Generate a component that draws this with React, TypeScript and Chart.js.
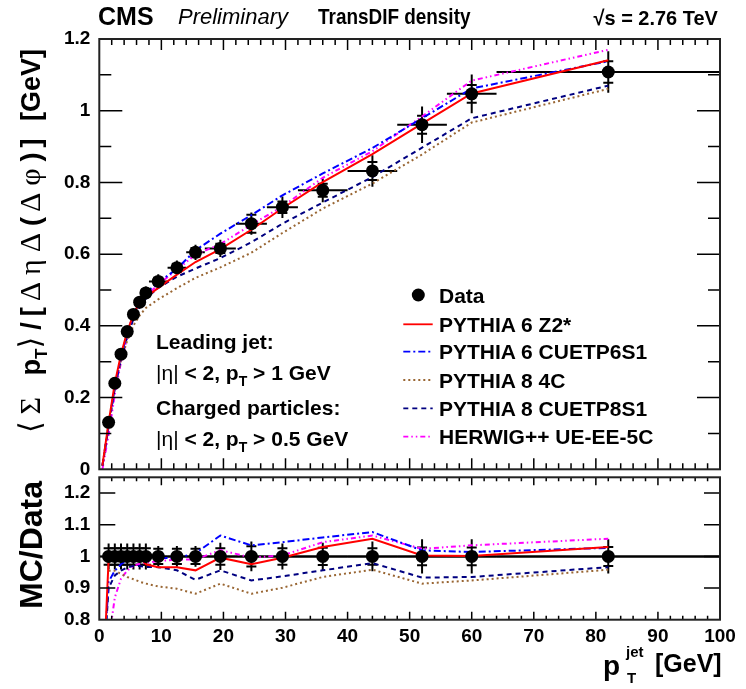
import React, { useEffect, useRef } from "react";
import { Chart, registerables } from "chart.js";

Chart.register(...registerables);

// ---------------- data ----------------
const binCenters = [1.5, 2.5, 3.5, 4.5, 5.5, 6.5, 7.5, 9.5, 12.5, 15.5, 19.5, 24.5, 29.5, 36, 44, 52, 60, 82];
const binLow = [1, 2, 3, 4, 5, 6, 7, 8, 11, 14, 17, 22, 27, 32, 40, 48, 56, 64];
const binHigh = [2, 3, 4, 5, 6, 7, 8, 11, 14, 17, 22, 27, 32, 40, 48, 56, 64, 100];
const dataValues = [0.131, 0.24, 0.321, 0.384, 0.432, 0.466, 0.492, 0.524, 0.562, 0.605, 0.616, 0.685, 0.731, 0.778, 0.832, 0.961, 1.047, 1.108];
const dataErrTotal = [0.006, 0.01, 0.012, 0.014, 0.016, 0.017, 0.018, 0.02, 0.02, 0.021, 0.024, 0.031, 0.03, 0.033, 0.044, 0.051, 0.054, 0.058];
const dataErrStat = [0.003, 0.005, 0.006, 0.007, 0.008, 0.008, 0.009, 0.01, 0.011, 0.012, 0.013, 0.025, 0.016, 0.018, 0.025, 0.025, 0.025, 0.03];
const ratioDataValues = [1, 1, 1, 1, 1, 1, 1, 1, 1, 1, 1, 1, 1, 1, 1, 1, 1, 1];
const ratioErrTotal = [0.041, 0.041, 0.041, 0.041, 0.041, 0.041, 0.041, 0.033, 0.033, 0.033, 0.043, 0.047, 0.041, 0.043, 0.047, 0.054, 0.054, 0.054];
const ratioErrStat = [0.026, 0.026, 0.026, 0.026, 0.026, 0.026, 0.026, 0.024, 0.024, 0.024, 0.026, 0.032, 0.026, 0.027, 0.026, 0.028, 0.028, 0.03];

const mcX = [0.5, 1.5, 2.5, 3.5, 4.5, 5.5, 6.5, 7.5, 9.5, 12.5, 15.5, 19.5, 24.5, 29.5, 36, 44, 52, 60, 82];
const z2Main = [0.01, 0.13, 0.24, 0.321, 0.384, 0.432, 0.466, 0.48, 0.506, 0.543, 0.578, 0.614, 0.668, 0.728, 0.801, 0.879, 0.964, 1.048, 1.141];
const z2Ratio = [0.55, 0.99, 1.0, 1.0, 1.0, 1.0, 1.0, 0.975, 0.966, 0.966, 0.956, 0.996, 0.975, 0.996, 1.03, 1.056, 1.003, 1.001, 1.03];
const cuetp6Main = [0.01, 0.121, 0.229, 0.313, 0.38, 0.432, 0.466, 0.492, 0.521, 0.559, 0.611, 0.657, 0.709, 0.764, 0.825, 0.896, 0.979, 1.062, 1.138];
const cuetp6Ratio = [0.6, 0.92, 0.955, 0.975, 0.99, 1.0, 1.0, 1.0, 0.995, 0.995, 1.01, 1.066, 1.035, 1.045, 1.06, 1.077, 1.019, 1.014, 1.027];
const p84cMain = [0.01, 0.125, 0.229, 0.303, 0.359, 0.401, 0.429, 0.45, 0.474, 0.505, 0.534, 0.563, 0.604, 0.659, 0.727, 0.797, 0.878, 0.967, 1.061];
const p84cRatio = [null, 0.955, 0.955, 0.945, 0.935, 0.928, 0.92, 0.914, 0.905, 0.898, 0.882, 0.914, 0.882, 0.901, 0.935, 0.958, 0.914, 0.924, 0.958];
const cuetp8Main = [0.01, 0.118, 0.226, 0.307, 0.371, 0.419, 0.452, 0.476, 0.506, 0.537, 0.56, 0.589, 0.633, 0.685, 0.744, 0.815, 0.897, 0.979, 1.07];
const cuetp8Ratio = [0.6, 0.9, 0.94, 0.955, 0.965, 0.97, 0.97, 0.967, 0.966, 0.956, 0.926, 0.956, 0.924, 0.937, 0.956, 0.979, 0.933, 0.935, 0.966];
const herwigMain = [0.0, 0.096, 0.209, 0.299, 0.367, 0.419, 0.455, 0.482, 0.516, 0.556, 0.599, 0.628, 0.682, 0.733, 0.813, 0.887, 0.984, 1.084, 1.17];
const herwigRatio = [0.3, 0.73, 0.87, 0.93, 0.955, 0.97, 0.977, 0.98, 0.985, 0.99, 0.99, 1.02, 0.996, 1.003, 1.045, 1.066, 1.024, 1.035, 1.056];

const mcLabels = ["PYTHIA 6 Z2*", "PYTHIA 6 CUETP6S1", "PYTHIA 8 4C", "PYTHIA 8 CUETP8S1", "HERWIG++ UE-EE-5C"];
const mcColors = ["#ff0000", "#0000ff", "#996633", "#000080", "#ff00ff"];
const mcDashes = [[], [7, 3, 2, 3], [2, 3], [5, 4], [5, 3, 1.5, 3, 1.5, 3]];
const mcMain = [z2Main, cuetp6Main, p84cMain, cuetp8Main, herwigMain];
const mcRatio = [z2Ratio, cuetp6Ratio, p84cRatio, cuetp8Ratio, herwigRatio];

const xTickLabels = [0, 10, 20, 30, 40, 50, 60, 70, 80, 90, 100];
const mainYTickLabels = [0, 0.2, 0.4, 0.6, 0.8, 1, 1.2];
const ratioYTickLabels = [0.8, 0.9, 1, 1.1, 1.2];

const FONT = '"Liberation Sans", Arial, Helvetica, sans-serif';
const SYM = '"Liberation Serif", "DejaVu Serif", serif';

type FrameOpts = {
  values: number[];
  errTot: number[];
  errStat: number[];
  refLine?: number;
  xMajorLen: number;
  xMinorLen: number;
  yTicks: { v: number; major: boolean }[];
  yMajorLen: number;
  yMinorLen: number;
};

function framePlugin(o: FrameOpts) {
  return {
    id: "rootFrame",
    beforeDatasetsDraw(chart: any) {
      const { ctx, chartArea: a } = chart;
      const xs = chart.scales.x;
      const ys = chart.scales.y;
      ctx.save();
      ctx.beginPath();
      ctx.rect(a.left, a.top, a.right - a.left, a.bottom - a.top);
      ctx.clip();
      ctx.strokeStyle = "#000";
      if (o.refLine !== undefined) {
        ctx.lineWidth = 2;
        const yy = ys.getPixelForValue(o.refLine);
        ctx.beginPath();
        ctx.moveTo(xs.getPixelForValue(0), yy);
        ctx.lineTo(xs.getPixelForValue(100), yy);
        ctx.stroke();
      }
      ctx.lineWidth = 2;
      for (let i = 0; i < binCenters.length; i++) {
        const px = xs.getPixelForValue(binCenters[i]);
        const py = ys.getPixelForValue(o.values[i]);
        ctx.beginPath();
        ctx.moveTo(xs.getPixelForValue(binLow[i]), py);
        ctx.lineTo(xs.getPixelForValue(binHigh[i]), py);
        ctx.moveTo(px, ys.getPixelForValue(o.values[i] - o.errTot[i]));
        ctx.lineTo(px, ys.getPixelForValue(o.values[i] + o.errTot[i]));
        const s1 = ys.getPixelForValue(o.values[i] + o.errStat[i]);
        const s2 = ys.getPixelForValue(o.values[i] - o.errStat[i]);
        ctx.moveTo(px - 5, s1);
        ctx.lineTo(px + 5, s1);
        ctx.moveTo(px - 5, s2);
        ctx.lineTo(px + 5, s2);
        ctx.stroke();
      }
      ctx.restore();
    },
    afterDraw(chart: any) {
      const { ctx, chartArea: a } = chart;
      const xs = chart.scales.x;
      const ys = chart.scales.y;
      ctx.save();
      ctx.strokeStyle = "#000";
      ctx.lineWidth = 1.5;
      ctx.beginPath();
      for (let v = 2; v < 100; v += 2) {
        const px = xs.getPixelForValue(v);
        const len = v % 10 === 0 ? o.xMajorLen : o.xMinorLen;
        ctx.moveTo(px, a.bottom);
        ctx.lineTo(px, a.bottom - len);
        ctx.moveTo(px, a.top);
        ctx.lineTo(px, a.top + len);
      }
      for (const t of o.yTicks) {
        const py = ys.getPixelForValue(t.v);
        const len = t.major ? o.yMajorLen : o.yMinorLen;
        ctx.moveTo(a.left, py);
        ctx.lineTo(a.left + len, py);
        ctx.moveTo(a.right, py);
        ctx.lineTo(a.right - len, py);
      }
      ctx.stroke();
      ctx.lineWidth = 2;
      ctx.strokeStyle = "#222";
      ctx.strokeRect(a.left, a.top, a.right - a.left, a.bottom - a.top);
      ctx.restore();
    },
  };
}

const tickFont = { family: FONT, size: 19, weight: "bold" as const };
const fmt = (v: any) => String(Math.round(Number(v) * 100) / 100);

function mcDatasets(values: (number | null)[][]) {
  return values.map((arr, k) => ({
    label: mcLabels[k],
    data: mcX.map((x, i) => ({ x, y: arr[i] })),
    borderColor: mcColors[k],
    borderDash: mcDashes[k],
    borderWidth: 2,
    pointRadius: 0,
    fill: false,
    tension: 0,
    spanGaps: false,
  }));
}

function dataDataset(vals: number[]) {
  return {
    label: "Data",
    data: binCenters.map((x, i) => ({ x, y: vals[i] })),
    showLine: false,
    pointRadius: 6.5,
    pointBackgroundColor: "#000",
    pointBorderColor: "#000",
    pointBorderWidth: 0,
    borderColor: "#000",
  };
}

const Sub = ({ children, size = 14, dy = 6 }: any) => (
  <span style={{ fontSize: size, position: "relative", top: dy }}>{children}</span>
);

const G = ({ children, size = 30, ls = 7 }: any) => (
  <span style={{ fontFamily: SYM, fontWeight: "normal", fontSize: size, letterSpacing: ls }}>{children}</span>
);

export default function App() {
  const mainRef = useRef<HTMLCanvasElement>(null);
  const ratioRef = useRef<HTMLCanvasElement>(null);

  useEffect(() => {
    const mainYTicks = [] as { v: number; major: boolean }[];
    for (let k = 1; k < 12; k++) mainYTicks.push({ v: k / 10, major: k % 2 === 0 });
    const ratioYTicks = [0.9, 1.0, 1.1, 1.2].map((v) => ({ v, major: true }));

    const main = new Chart(mainRef.current as HTMLCanvasElement, {
      type: "line",
      data: { datasets: [dataDataset(dataValues), ...mcDatasets(mcMain)] as any },
      options: {
        animation: false,
        responsive: false,
        maintainAspectRatio: false,
        layout: { padding: { top: 39, right: 26, bottom: 219.7, left: 0 } },
        plugins: { legend: { display: false }, tooltip: { enabled: false } },
        scales: {
          x: { type: "linear", min: 0, max: 100, display: false },
          y: {
            type: "linear",
            min: 0,
            max: 1.2,
            afterBuildTicks: (s: any) => {
              s.ticks = mainYTickLabels.map((v) => ({ value: v }));
            },
            ticks: { font: tickFont, color: "#000", padding: 9, callback: fmt },
            grid: { display: false, drawTicks: false },
            border: { display: false },
            afterFit: (s: any) => {
              s.width = 99.3;
            },
          },
        },
      } as any,
      plugins: [
        framePlugin({
          values: dataValues,
          errTot: dataErrTotal,
          errStat: dataErrStat,
          xMajorLen: 11,
          xMinorLen: 6,
          yTicks: mainYTicks,
          yMajorLen: 23,
          yMinorLen: 12,
        }) as any,
      ],
    });

    const ratio = new Chart(ratioRef.current as HTMLCanvasElement, {
      type: "line",
      data: { datasets: [dataDataset(ratioDataValues), ...mcDatasets(mcRatio)] as any },
      options: {
        animation: false,
        responsive: false,
        maintainAspectRatio: false,
        layout: { padding: { top: 477.3, right: 26, bottom: 0, left: 0 } },
        plugins: { legend: { display: false }, tooltip: { enabled: false } },
        scales: {
          x: {
            type: "linear",
            min: 0,
            max: 100,
            afterBuildTicks: (s: any) => {
              s.ticks = xTickLabels.map((v) => ({ value: v }));
            },
            ticks: { font: tickFont, color: "#000", padding: 6, maxRotation: 0, callback: fmt },
            grid: { display: false, drawTicks: false },
            border: { display: false },
            afterFit: (s: any) => {
              s.height = 69.3;
            },
          },
          y: {
            type: "linear",
            min: 0.8,
            max: 1.25,
            afterBuildTicks: (s: any) => {
              s.ticks = ratioYTickLabels.map((v) => ({ value: v }));
            },
            ticks: { font: tickFont, color: "#000", padding: 9, callback: fmt },
            grid: { display: false, drawTicks: false },
            border: { display: false },
            afterFit: (s: any) => {
              s.width = 99.3;
            },
          },
        },
      } as any,
      plugins: [
        framePlugin({
          values: ratioDataValues,
          errTot: ratioErrTotal,
          errStat: ratioErrStat,
          refLine: 1,
          xMajorLen: 8,
          xMinorLen: 4,
          yTicks: ratioYTicks,
          yMajorLen: 16,
          yMinorLen: 8,
        }) as any,
      ],
    });

    return () => {
      main.destroy();
      ratio.destroy();
    };
  }, []);

  const bold: React.CSSProperties = { fontFamily: FONT, fontWeight: "bold", color: "#000", lineHeight: 1, whiteSpace: "nowrap", position: "absolute" };
  const legendRows = [324.3, 351.7, 380, 408.3, 436.7];

  return (
    <div style={{ position: "absolute", left: 0, top: 0, width: 746, height: 689, background: "#fff", overflow: "hidden" }}>
      <canvas ref={mainRef} width={746} height={689} style={{ position: "absolute", left: 0, top: 0 }} />
      <canvas ref={ratioRef} width={746} height={689} style={{ position: "absolute", left: 0, top: 0 }} />

      {/* header */}
      <div style={{ ...bold, left: 98, top: 4, fontSize: 25 }}>CMS</div>
      <div style={{ ...bold, fontWeight: "normal", fontStyle: "italic", left: 178, top: 6, fontSize: 22 }}>Preliminary</div>
      <div style={{ ...bold, left: 318, top: 6, fontSize: 22, transform: "scaleX(0.86)", transformOrigin: "left center" }}>TransDIF density</div>
      <div style={{ ...bold, right: 28, top: 7, fontSize: 21, transform: "scaleX(0.95)", transformOrigin: "right center" }}>√s = 2.76 TeV</div>

      {/* y title main */}
      <div
        style={{
          ...bold,
          left: 30,
          top: 241,
          fontSize: 27,
          transform: "translate(-50%, -50%) rotate(-90deg)",
        }}
      >
        <G>⟨Σ </G>p<Sub size={17} dy={7}>T</Sub>
        <G>⟩</G>
        <span style={{ letterSpacing: 6 }}>/[</span>
        <G>ΔηΔ</G>
        <span style={{ letterSpacing: 5 }}>(</span>
        <G>Δφ</G>
        <span style={{ letterSpacing: 5 }}>)] </span>[GeV]
      </div>

      {/* y title ratio */}
      <div
        style={{
          ...bold,
          left: 31,
          top: 545,
          fontSize: 32,
          transform: "translate(-50%, -50%) rotate(-90deg)",
        }}
      >
        MC/Data
      </div>

      {/* x title */}
      <div style={{ ...bold, left: 603, top: 652, fontSize: 28 }}>p</div>
      <div style={{ ...bold, left: 626, top: 644, fontSize: 15 }}>jet</div>
      <div style={{ ...bold, left: 627, top: 670, fontSize: 15 }}>T</div>
      <div style={{ ...bold, left: 655, top: 651, fontSize: 25 }}>[GeV]</div>

      {/* annotation */}
      <div style={{ ...bold, left: 156, top: 330.5, fontSize: 21 }}>Leading jet:</div>
      <div style={{ ...bold, left: 156, top: 361.5, fontSize: 21 }}>
        <span style={{ fontWeight: "normal" }}>|η|</span> &lt; 2, p<Sub>T</Sub> &gt; 1 GeV
      </div>
      <div style={{ ...bold, left: 156, top: 396.5, fontSize: 21 }}>Charged particles:</div>
      <div style={{ ...bold, left: 156, top: 428, fontSize: 21 }}>
        <span style={{ fontWeight: "normal" }}>|η|</span> &lt; 2, p<Sub>T</Sub> &gt; 0.5 GeV
      </div>

      {/* legend */}
      <svg width={60} height={180} style={{ position: "absolute", left: 395, top: 280 }}>
        <circle cx={418.3 - 395} cy={295 - 280} r={6.5} fill="#000" />
        {legendRows.map((ry, k) => (
          <line
            key={k}
            x1={403.3 - 395}
            x2={432.7 - 395}
            y1={ry - 280}
            y2={ry - 280}
            stroke={mcColors[k]}
            strokeWidth={1.8}
            strokeDasharray={mcDashes[k].length ? mcDashes[k].join(" ") : undefined}
          />
        ))}
      </svg>
      <div style={{ ...bold, left: 439, top: 295 - 10.3, fontSize: 21 }}>Data</div>
      {mcLabels.map((lab, k) => (
        <div key={lab} style={{ ...bold, left: 439, top: legendRows[k] - 10.3, fontSize: 21 }}>
          {lab}
        </div>
      ))}
    </div>
  );
}
